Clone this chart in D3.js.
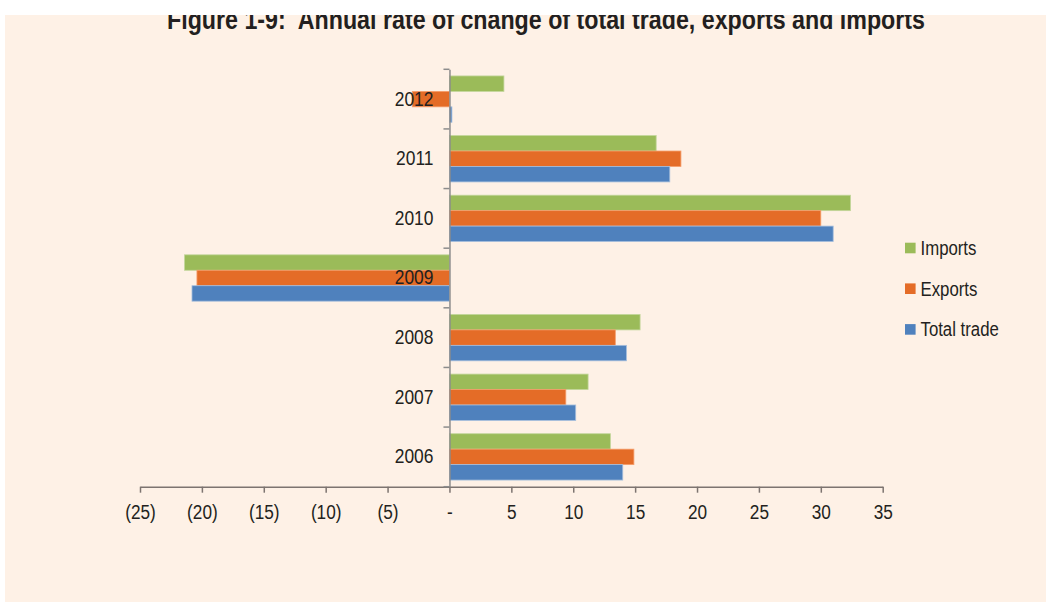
<!DOCTYPE html>
<html>
<head>
<meta charset="utf-8">
<script src="https://cdn.jsdelivr.net/npm/d3@7"></script>
<style>
  html, body { margin: 0; padding: 0; background: #fff; }
  text { font-family: "Liberation Sans Narrow", "Liberation Sans", Arial, sans-serif; fill: #231f20; }
</style>
</head>
<body>
<script>
// data (annual % change)
const years   = ["2012", "2011", "2010", "2009", "2008", "2007", "2006"];
const series  = ["Imports", "Exports", "Total trade"];
const imports = [4.4, 16.7, 32.4, -21.4, 15.4, 11.2, 13.0];
const exports = [-3.0, 18.7, 30.0, -20.4, 13.4, 9.4, 14.9];
const total   = [0.2, 17.8, 31.0, -20.8, 14.3, 10.2, 14.0];
const xTicks  = [-25, -20, -15, -10, -5, 0, 5, 10, 15, 20, 25, 30, 35];

const colors  = {"Imports": "#9bbb59", "Exports": "#e46c27", "Total trade": "#4f81bd"};
const borders = {"Imports": "#c3d69b", "Exports": "#f59d6a", "Total trade": "#a6bfdd"};

const W = 1046, H = 603;

// the source uses a condensed face; squeeze the regular one to match
function squeeze(sel, k) {
    sel.each(function() {
        const w = this.getComputedTextLength();
        d3.select(this)
            .attr("textLength", w * k)
            .attr("lengthAdjust", "spacingAndGlyphs");
    });
}

const rows = [];
years.forEach((yr, i) => {
    rows.push({year: yr, key: "Imports", value: imports[i]});
    rows.push({year: yr, key: "Exports", value: exports[i]});
    rows.push({year: yr, key: "Total trade", value: total[i]});
});

const svg = d3.select("body").append("svg")
    .attr("width", W)
    .attr("height", H);

// panel
svg.append("rect")
    .attr("x", 5).attr("y", 15)
    .attr("width", W - 5).attr("height", H - 16)
    .attr("fill", "#fef1e6");

svg.append("clipPath").attr("id", "panel")
    .append("rect")
    .attr("x", 5).attr("y", 15)
    .attr("width", W - 5).attr("height", H - 16);

svg.append("text")
    .attr("clip-path", "url(#panel)")
    .attr("x", 167).attr("y", 29)
    .attr("textLength", 758)
    .attr("lengthAdjust", "spacingAndGlyphs")
    .style("font-size", "27px")
    .style("font-weight", "bold")
    .style("white-space", "pre")
    .text("Figure 1-9:  Annual rate of change of total trade, exports and imports");

const x = d3.scaleLinear()
    .domain([-25, 35])
    .range([140, 882.7]);

const y = d3.scaleBand()
    .domain(years)
    .range([69.3, 486.7]);

const ySub = d3.scaleBand()
    .domain(series)
    .range([0, y.bandwidth()])
    .paddingOuter(0.43);

// bars
svg.append("g").selectAll("rect")
    .data(rows)
    .enter().append("rect")
    .attr("x", d => x(Math.min(0, d.value)))
    .attr("y", d => y(d.year) + ySub(d.key))
    .attr("width", d => Math.abs(x(d.value) - x(0)))
    .attr("height", ySub.bandwidth())
    .attr("fill", d => colors[d.key])
    .attr("stroke", d => borders[d.key])
    .attr("stroke-width", 0.8);

// x axis
const fmt = d => d < 0 ? `(${-d})` : (d === 0 ? "-" : String(d));
const xAxis = svg.append("g")
    .attr("transform", `translate(0,${y.range()[1]})`)
    .call(d3.axisBottom(x).tickValues(xTicks).tickFormat(fmt).tickSize(6).tickPadding(12).tickSizeOuter(0));
xAxis.select(".domain").attr("stroke", "#7d7470").attr("stroke-width", 1.5);
xAxis.selectAll(".tick line").attr("stroke", "#7d7470").attr("stroke-width", 1.5);
xAxis.selectAll(".tick text").style("font-size", "20px").attr("fill", "#231f20").call(squeeze, 0.86);

// y axis: labels at band centres, ticks between categories
const yAxis = svg.append("g")
    .attr("transform", `translate(${x(0)},0)`)
    .call(d3.axisLeft(y).tickSize(0).tickPadding(16));
yAxis.select(".domain").attr("stroke", "#8c8c8c").attr("stroke-width", 1.5);
yAxis.selectAll(".tick text").style("font-size", "20px").attr("fill", "#231f20").call(squeeze, 0.87);

yAxis.selectAll(".cat-tick")
    .data(years.map(yr => y(yr)).concat([y.range()[1]]))
    .enter().append("line")
    .attr("class", "cat-tick")
    .attr("x1", -6).attr("x2", 0)
    .attr("y1", d => d).attr("y2", d => d)
    .attr("stroke", "#8c8c8c")
    .attr("stroke-width", 1.5);

// legend
const legend = svg.append("g")
    .attr("transform", "translate(905,248)");
const item = legend.selectAll("g")
    .data(series)
    .enter().append("g")
    .attr("transform", (d, i) => `translate(0,${i * 40.7})`);
item.append("rect")
    .attr("x", 0).attr("y", -5.3)
    .attr("width", 10.6).attr("height", 10.6)
    .attr("fill", d => colors[d]);
item.append("text")
    .attr("x", 15.5).attr("y", 0)
    .attr("dy", "0.35em")
    .style("font-size", "19.5px")
    .text(d => d)
    .call(squeeze, 0.86);
</script>
</body>
</html>
